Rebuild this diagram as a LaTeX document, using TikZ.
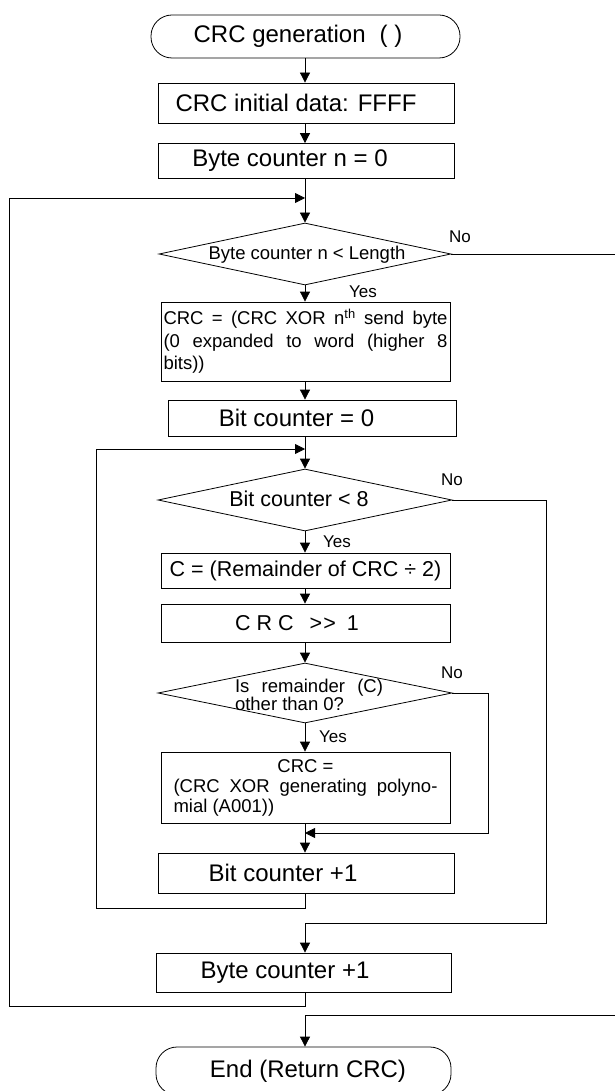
\documentclass[tikz,border=0pt]{standalone}
\usepackage{fontspec}
\setmainfont{Liberation Sans}
\usetikzlibrary{shapes.geometric,arrows.meta}
\begin{document}
\begin{tikzpicture}[x=1pt,y=-1pt,
  line width=0.8pt,
  arr/.style={-{Triangle[length=10pt,width=10pt]}},
  box/.style={draw, rectangle, inner sep=0pt, font=\fontsize{24}{28}\selectfont},
  term/.style={draw, rectangle, rounded corners=21pt, inner sep=0pt, font=\fontsize{24}{28}\selectfont},
  dia/.style={draw, diamond, inner sep=0pt},
  dtext/.style={inner sep=0pt, font=\fontsize{18.5}{22}\selectfont},
  lbl/.style={inner sep=0pt, font=\fontsize{17}{20}\selectfont},
]
\useasboundingbox (0,0) rectangle (615,1091);
\fill[white] (0,0) rectangle (615,1091);
\coordinate (sp) at (305,0);

% nodes
\node[term, minimum width=309pt, minimum height=43pt] (start) at (305.5,36.5) {CRC generation\hspace{14pt}( )\hspace*{15pt}};
\node[box, minimum width=296pt, minimum height=40pt] (b1) at (306,103) {CRC initial data: FFFF\hspace*{20pt}};
\node[box, minimum width=296pt, minimum height=35pt] (b2) at (306,161) {Byte counter n = 0\hspace*{32pt}};

\node[dia, minimum width=292pt, minimum height=62pt] (d1) at (305,254) {};
\node[dtext] (d1t) at (307,255) {Byte counter n < Length};

\node[box, minimum width=289pt, minimum height=79pt, text width=284pt, align=justify,
      font=\fontsize{18.5}{22.5}\selectfont] (b3) at (305.5,341.5)
  {CRC = (CRC XOR n\textsuperscript{th} send byte\linebreak (0 expanded to word (higher 8\linebreak bits))};

\node[box, minimum width=288pt, minimum height=36pt] (b4) at (312,418) {Bit counter = 0\hspace*{31pt}};

\node[dia, minimum width=294pt, minimum height=62pt] (d2) at (305,500) {};
\node[inner sep=0pt, font=\fontsize{21.5}{25}\selectfont] (d2t) at (299,499) {Bit counter < 8};

\node[box, minimum width=289pt, minimum height=35pt, font=\fontsize{21.5}{25}\selectfont] (cb) at (305.5,570.5) {C = (Remainder of CRC ÷ 2)};
\node[box, minimum width=289pt, minimum height=38pt, font=\fontsize{21.5}{25}\selectfont] (rb) at (305.5,623)
  {C R C\hspace{16pt}>\kern1pt>\hspace{11pt}1\hspace*{17pt}};

\node[dia, minimum width=294pt, minimum height=60pt] (d3) at (305,693) {};
\node[dtext, text width=148pt, align=justify, font=\fontsize{18.5}{18.5}\selectfont] (d3t) at (309,695)
  {Is remainder (C)\linebreak other than 0?};

\node[box, minimum width=289pt, minimum height=71pt, text width=264pt, align=justify,
      font=\fontsize{18.5}{20}\selectfont] (xb) at (305.5,787.5)
  {\makebox[\linewidth]{CRC =}\par (CRC XOR generating polyno-\linebreak mial (A001))};

\node[box, minimum width=296pt, minimum height=40pt] (bi) at (306,873) {Bit counter +1\hspace*{46pt}};
\node[box, minimum width=295pt, minimum height=39pt] (by) at (303.5,972.5) {Byte counter +1\hspace*{37pt}};
\node[term, minimum width=295pt, minimum height=48pt] (en) at (303.5,1071) {\hspace*{9pt}End (Return CRC)};

% labels
\node[lbl] (no1) at (460,237) {No};
\node[lbl] (yes1) at (363,292) {Yes};
\node[lbl] (no2) at (452,480) {No};
\node[lbl] (yes2) at (337,542) {Yes};
\node[lbl] (no3) at (452,673) {No};
\node[lbl] (yes3) at (333,737) {Yes};

% connectors
\draw[arr] (start.south -| sp) -- (b1.north -| sp);
\draw[arr] (b1.south -| sp) -- (b2.north -| sp);
\draw[arr] (b2.south -| sp) -- (d1.north);
\draw[arr] (d1.south) -- (b3.north -| sp);
\draw[arr] (b3.south -| sp) -- (b4.north -| sp);
\draw[arr] (b4.south -| sp) -- (d2.north);
\draw[arr] (d2.south) -- (cb.north -| sp);
\draw[arr] (cb.south -| sp) -- (rb.north -| sp);
\draw[arr] (rb.south -| sp) -- (d3.north);
\draw[arr] (d3.south) -- (xb.north -| sp);
\draw[arr] (xb.south -| sp) -- (bi.north -| sp);

\coordinate (innerjoin) at (305,449);
\coordinate (outerjoin) at (305,198);
\coordinate (mergejoin) at (305,833);

\draw[arr] (bi.south -| sp) -- (305,908) -- (96,908) -- (96,449) -- (innerjoin);
\draw[arr] (d3.east) -- (488,693) -- (488,833) -- (mergejoin);
\draw[arr] (d2.east) -- (546,500) -- (546,923) -- (305,923) -- (by.north -| sp);
\draw[arr] (by.south -| sp) -- (305,1006) -- (9,1006) -- (9,198) -- (outerjoin);
\draw[arr] (d1.east) -- (619,254) -- (619,1015) -- (305,1015) -- (en.north -| sp);
\end{tikzpicture}
\end{document}
